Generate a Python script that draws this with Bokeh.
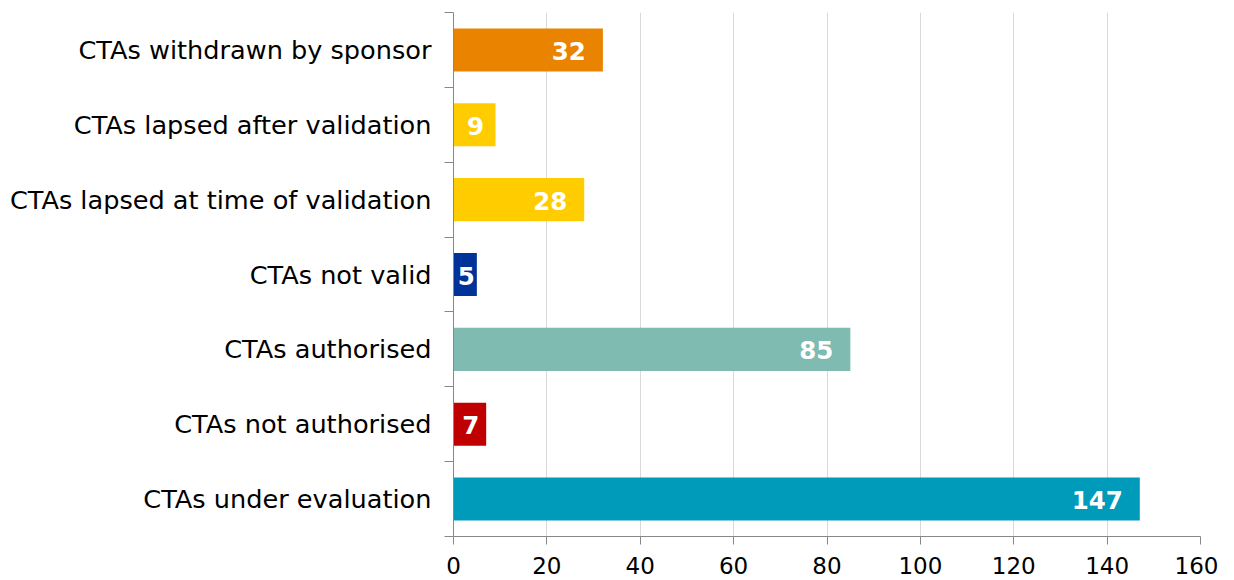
from bokeh.plotting import figure
from bokeh.models import ColumnDataSource, Range1d, FixedTicker
from bokeh.core.properties import value
from bokeh.embed import file_html
from bokeh.resources import INLINE

categories = ["CTAs withdrawn by sponsor", "CTAs lapsed after validation",
              "CTAs lapsed at time of validation", "CTAs not valid",
              "CTAs authorised", "CTAs not authorised", "CTAs under evaluation"]
counts = [32, 9, 28, 5, 85, 7, 147]
colors = ["#E98300", "#FFCC00", "#FFCC00", "#003399", "#7FBBB0", "#C00000", "#009BBB"]
x_ticks = [0, 20, 40, 60, 80, 100, 120, 140, 160]

FONT = "DejaVu Sans"
n = len(categories)
ypos = [n - i - 0.5 for i in range(n)]  # top to bottom

p = figure(width=1218, height=580, output_backend="svg", toolbar_location=None,
           x_range=Range1d(0, 160), y_range=Range1d(0, n),
           min_border_left=453, min_border_right=18, min_border_top=12,
           min_border_bottom=44)
p.outline_line_color = None
p.background_fill_color = "white"
p.border_fill_color = "white"

src = ColumnDataSource(dict(y=ypos, v=counts, c=colors))
p.hbar(y="y", right="v", left=0, height=0.575, fill_color="c", line_color=None, source=src)

big = [i for i, v in enumerate(counts) if v >= 20]
small = [i for i, v in enumerate(counts) if v < 20]
src_big = ColumnDataSource(dict(x=[counts[i] for i in big], y=[ypos[i] for i in big],
                                lab=[str(counts[i]) for i in big]))
src_small = ColumnDataSource(dict(x=[counts[i] / 2 for i in small], y=[ypos[i] for i in small],
                                  lab=[str(counts[i]) for i in small]))
p.text(x="x", y="y", text="lab", source=src_big, text_align="right", text_baseline="middle",
       x_offset=-17, y_offset=1, text_color="white", text_font=value(FONT),
       text_font_style="bold", text_font_size="24.5px")
p.text(x="x", y="y", text="lab", source=src_small, text_align="center", text_baseline="middle",
       x_offset=1, y_offset=1, text_color="white", text_font=value(FONT),
       text_font_style="bold", text_font_size="24.5px")

# x axis
p.xaxis.ticker = FixedTicker(ticks=x_ticks)
p.xaxis.axis_line_color = "#888888"
p.xaxis.major_tick_line_color = "#888888"
p.xaxis.major_tick_in = 0
p.xaxis.major_tick_out = 8
p.xaxis.minor_tick_line_color = None
p.xaxis.major_label_text_font = FONT
p.xaxis.major_label_text_font_size = "23px"
p.xaxis.major_label_text_color = "#000000"
p.xaxis.major_label_standoff = 12

# y axis
p.yaxis.ticker = FixedTicker(ticks=ypos, minor_ticks=list(range(n + 1)))
p.yaxis.major_label_overrides = {y: c for y, c in zip(ypos, categories)}
p.yaxis.axis_line_color = "#888888"
p.yaxis.major_tick_line_color = None
p.yaxis.major_tick_in = 0
p.yaxis.major_tick_out = 0
p.yaxis.minor_tick_line_color = "#888888"
p.yaxis.minor_tick_in = 0
p.yaxis.minor_tick_out = 9
p.yaxis.major_label_text_font = FONT
p.yaxis.major_label_text_font_size = "25.6px"
p.yaxis.major_label_text_color = "#000000"
p.yaxis.major_label_standoff = 13

p.xgrid.ticker = FixedTicker(ticks=x_ticks)
p.xgrid.grid_line_color = "#D9D9D9"
p.ygrid.grid_line_color = None

open("out.html", "w").write(file_html(p, INLINE))
